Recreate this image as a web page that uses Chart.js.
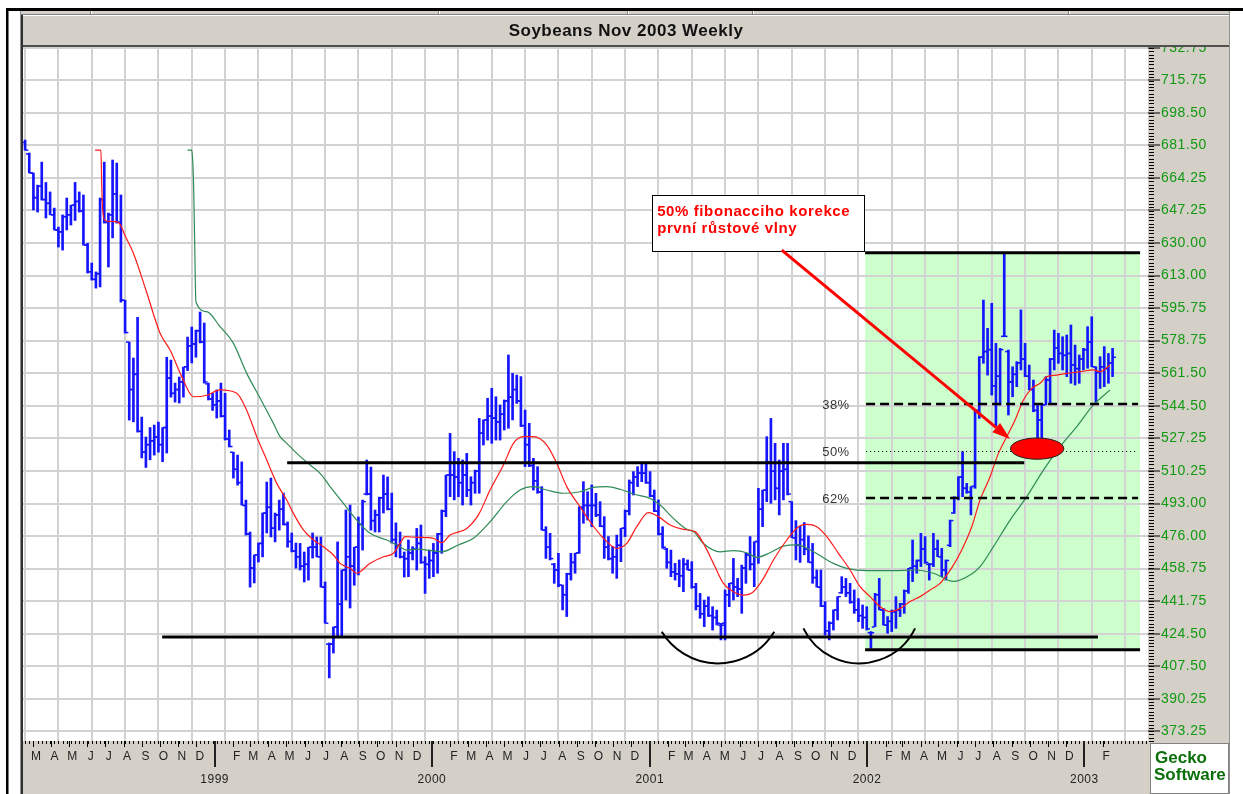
<!DOCTYPE html>
<html><head><meta charset="utf-8">
<script src="https://cdn.jsdelivr.net/npm/chart.js@4.4.1/dist/chart.umd.min.js"></script>
<style>html,body{margin:0;padding:0;background:#fff;overflow:hidden}#wrap{position:absolute;left:0;top:0;width:1243px;height:794px}</style>
</head><body><div id="wrap"><canvas id="c" width="1243" height="794"></canvas></div>
<script>
// ---- DATA (weekly bars, index 0 = week of 17 Feb 1998) ----
const weekHigh = [
684.3,677.5,667,660.6,672.7,662,657,648.5,638.5,644.9,
653.8,650,662,657,655.4,630,619.6,614.9,653.8,672.7,
645.9,673.8,672.2,655.4,600,578,569.6,591,538.5,528,
533,534.3,535.9,533,570,568.5,556.4,559.6,564.8,580.6,
585.9,584.3,593.8,588,556.4,551,552.8,556.4,551,531.7,
520,518.5,514.9,494.8,478,465.9,472.2,488,504.3,506.4,
488,494.8,498.5,483.3,477.5,472.2,472,467.5,470,477.5,
475.4,475.4,451.7,419.6,428,472.8,458,489.6,492.2,470,
485.9,494.8,515.9,512.2,489.6,496.4,508,507,498.5,482.8,
478,467.5,473.8,470.3,479.9,481.7,465,468.5,472,477.3,
489.6,508,529.9,520.3,516.8,515.9,519.4,507.1,510.6,537.8,
537,548.4,553.6,549.2,544.9,547.5,571.2,561.5,560.6,559.8,
542.2,535.2,516.8,512.4,501.9,480.8,477.3,461.5,466.8,450.1,
456.3,466.8,466.8,491.3,504.5,499.2,502.8,498.4,494,486.1,
475.6,470.3,476.4,479.9,489.6,505.4,509.8,512.4,514.2,514.2,
509.8,500.1,494.9,480.8,469.4,468.5,461.5,463.3,464.1,463.3,
462.4,451,445.7,442.2,443.9,438.7,436.9,429.9,447.5,451,
464.1,453.6,460.6,466.8,475.6,472.9,501,500.1,528.2,537.8,
524.7,515.9,524.7,524.7,494,484,481,483,476,472,
458,458,441.4,430.8,437,444,454.5,453.6,451,447.5,
443,439.6,438.7,425.6,445.7,453.6,437.8,433.5,437,444,
440.5,447.5,458.9,473.8,463.3,477.3,475.6,461.5,477.3,473.8,
469.4,463.3,484.3,496.6,507.1,520.3,503.6,501.9,542.2,570.3,
600.1,585.2,598.4,577.3,574.7,624.7,573.8,565,567.7,594.9,
577.3,565.9,558,544.9,545.7,559.8,569.4,584.3,582.6,580.8,
581.7,587,576.4,571.2,574.7,586.1,591.3,565,570.3,575.6,
572,574.7];
const weekLow = [
679,667,647.5,646.4,652.7,643.3,645,637,628,626.4,
637,639.6,642,646.4,629,614.3,610.6,606.4,607,640.6,
617.5,632.8,640.6,599,582.7,536.9,536,530.6,517,512,
516,518.5,520,515,519.6,549,546.4,545.9,549,563,
567,570,577.5,556.4,547.5,542,538,538.5,526.4,522.8,
506.4,502.7,492.2,476.4,449,451.2,462.2,464.9,477.5,475.4,
472.8,479,481.7,470,467.5,459,458,451.7,452.7,464.3,
464.9,449,430,401.2,414.3,422.8,422.8,442.2,438,450,
455.4,468.5,497.5,479,478,478,488,489.6,472.2,464.9,
464.3,454.3,454.5,463.3,458,461.5,445.7,453.6,454.5,456.3,
466.8,486.1,496.6,494.9,496.6,492.2,496.6,492.2,498.4,498.4,
523.8,526.4,524.7,526.4,526.4,531.7,532.6,537,545.7,533.5,
512.4,512.4,500.1,498.4,479,464.1,463.3,451,449.2,437,
433.5,452.7,456.3,466.8,482.6,484.3,480.8,486.1,480.8,464.1,
463.3,456.3,453.6,462.4,475.6,487,497.5,501.9,504.5,503.6,
496.6,488.7,476.4,469.4,458.9,454.5,452.7,449.2,446.6,458,
448.4,437,432.6,428.2,433.5,426.4,429.1,421.2,421.2,438.7,
442.2,444,435.2,451,458,449.2,461.5,480.8,494,493.1,
494.9,487,494.9,497.5,475,463.3,462,466,462,451,
449,438.7,423.8,421.2,426.4,431.7,445.7,444,440.5,435.2,
430.8,427.3,426.4,416.8,428.2,437,429,424.7,425.6,427.3,
433.5,435.2,445.7,451.9,456.3,459.8,461.5,452.7,459.8,465,
454.5,452.7,470.3,487.8,494.9,496.6,498.4,487,501,537.8,
566.8,560.6,550.1,533.5,544.9,580.8,539.6,549.2,554.5,563.3,
559.8,552.8,541.3,522,527.3,544.9,545.7,563.3,566.8,563.3,
559.8,556.3,555.4,556.3,563.3,564.2,565,545.7,553.6,554.5,
556.3,559.8];
const weekOpen = [
683,677,667,654,660,653,651,645,637,636,
644,645,650,652,647,629,615,611,614,653,
641,645,656,641,600,578,553,561,531,520,
524,526,528,524,533,559,551,553,557,565,
576,577,584,578,556,548,545,547,539,527,
520,511,504,492,477,459,466,472,488,491,
480,487,490,482,473,468,465,460,461,470,
470,465,449,419,419,428,440,458,465,460,
470,482,498,498,484,487,496,498,490,474,
471,465,464,467,469,472,462,461,463,467,
477,489,508,508,507,504,508,500,504,510,
530,537,539,538,536,540,547,549,553,547,
534,524,513,505,499,479,470,461,458,450,
445,456,462,467,491,492,492,492,487,481,
470,464,465,471,480,489,504,507,509,509,
504,497,489,477,469,462,457,456,455,461,
458,449,439,435,439,434,433,429,430,445,
451,449,448,459,466,461,473,490,500,515,
510,501,510,511,494,475,471,474,469,462,
454,449,439,426,430,437,446,449,446,441,
437,434,433,425,428,445,437,429,431,436,
437,440,447,459,460,463,469,461,461,469,
465,458,471,488,496,507,501,499,502,542,
570,573,574,555,560,581,573,557,561,567,
569,560,553,542,537,545,558,569,575,572,
571,572,566,564,569,574,578,565,562,565,
564,567];
const weekClose = [
679,667,654,660,653,651,645,637,636,644,
645,650,652,647,629,615,611,614,653,641,
645,656,641,600,583,553,561,531,520,524,
526,528,524,533,559,551,553,557,565,576,
577,584,578,557,548,545,547,539,527,523,
511,504,492,477,459,466,472,488,491,480,
487,490,482,473,468,465,460,461,470,470,
465,449,430,419,428,440,458,465,460,470,
482,494,498,484,487,496,498,490,474,471,
465,464,467,469,472,462,461,463,467,477,
489,508,508,507,504,508,500,504,510,530,
537,539,538,536,540,547,549,553,547,534,
524,513,505,499,479,470,464,458,450,445,
456,462,467,491,492,492,492,487,481,470,
464,465,471,480,489,504,507,509,509,504,
497,489,477,470,462,457,456,455,461,458,
449,439,435,439,434,433,430,429,445,451,
449,448,459,466,461,473,490,500,515,510,
501,510,511,498,475,471,474,469,462,454,
449,439,426,430,437,444,449,446,441,437,
434,433,427,425,445,437,429,431,436,437,
440,447,459,460,463,469,462,461,469,465,
458,463,484,496,507,501,499,502,542,570,
573,574,555,560,574,581,557,561,567,569,
560,553,542,537,545,558,569,575,572,571,
572,566,564,569,574,578,565,562,565,564,
567,570];
// moving averages: [week, price]
const redMA = [[16.8,679],[18.2,679],[18.4,660],[18.6,648],[19.2,642],[20.5,641.5],[22.4,641],[24,634],[26,624.7],[29,605.4],[32.4,582.6],[34.8,573.8],[37.6,559.8],[40.4,549.2],[43.6,550],[46.8,552.8],[50.8,551],[53.2,542],[55.6,528.2],[58,515.9],[60.4,503.6],[62.8,494.9],[64.4,487.8],[66.8,479.1],[69.2,473.8],[71.6,470.3],[74,465.9],[75.6,461.5],[78,458.9],[79.6,456.3],[80.4,457.1],[82.8,461.5],[86,465],[88.4,466.8],[90,472],[91.2,475.6],[94,475.2],[98,474.7],[100,472.4],[102,476.4],[106,479.9],[108.8,487],[111.6,500.1],[114.8,513.3],[117.2,524.7],[119.6,528.2],[122,528.2],[125.2,523.8],[127.6,514.2],[130,501.9],[133.2,491.3],[135.6,483.4],[138.8,474.7],[142,469.4],[144.4,472],[146.8,480.8],[149.6,488.2],[152,486.1],[154.8,481.7],[158,479.4],[160.8,478.2],[162.8,472],[165.2,461.5],[167.6,451],[170,446.6],[172.4,444.8],[174.8,446.6],[177.2,453.6],[179.6,463.3],[182.8,473.8],[185.6,480.8],[187.6,482],[190,480.8],[192.4,475.6],[195.2,466.8],[198,458],[200.4,449.2],[202.8,444],[205.2,438.7],[207.6,436.1],[210,437.8],[212.4,441.4],[214.8,444],[217.2,447.5],[219.6,451],[221.2,455.4],[222.8,460.6],[224.8,468.5],[227.2,480.8],[229.2,494.9],[231.6,507.1],[233.6,519.4],[235.6,528.2],[237.6,537],[239.6,547.5],[241.6,553.6],[243.6,556.3],[245.2,559.8],[247.6,560.6],[250,561.5],[253.2,562.4],[256.4,563.3],[258,562.4],[260.4,565.9]];
const greenMA = [[39,679],[40,679],[40.3,670],[40.5,655],[40.7,630],[41,599.2],[43.6,594],[46.8,586.1],[50,577.3],[53.2,561.5],[56.4,548.5],[59.6,535.2],[61.2,528.2],[62.8,524.7],[65.2,519.4],[68.4,513.3],[70.8,508.9],[73.2,501.9],[76.4,493.1],[79.6,484.3],[82.8,477.3],[86.8,473.8],[89.2,471.2],[91.6,468.5],[94,469],[100,467.6],[104,471.2],[107.6,474.7],[111.6,483.4],[115.6,494],[118.8,500.1],[122,501.9],[125.2,500.1],[129.2,498.4],[133.2,499.2],[136.4,501.5],[139.6,501.9],[142.8,500.5],[146,498],[150,495.7],[152.4,492.2],[155.6,485.2],[158.8,479.4],[160.4,478.2],[162.8,472],[166.8,467.6],[170,468.2],[173.2,467.1],[175.6,464.7],[178.8,467.1],[182,470.6],[185.2,471.2],[189.2,467.6],[194,461.5],[197.2,458.9],[202,457.7],[208.4,457.7],[213.2,458],[218,456.3],[222.8,452],[226.8,455.4],[229.2,459.8],[232.4,470.3],[236.4,484.3],[240.4,496.6],[244.4,510.6],[248.4,522.9],[252.4,533.5],[256.4,544.9],[260.4,552.8]];
const yTickLabels = ['732.75','715.75','698.50','681.50','664.25','647.25','630.00','613.00','595.75','578.75','561.50','544.50','527.25','510.25','493.00','476.00','458.75','441.75','424.50','407.50','390.25','373.25'];
const gridWeeks = [0,8,16,24,32,40,48,56,64,72,80,88,96,104,112,120,128,136,144,152,160,168,176,184,192,200,208,216,224,232,240,248,256,264];
const monthLetters = ['J','F','M','A','M','J','J','A','S','O','N','D'];
const firstMonth = [1998,2], lastMonth = [2003,1], jan1999Week = 45.5;
// drawings on the chart, in [week, price]
const fibZone = {w0:201.6, w1:267.6, top:625, bottom:416};
const fibLevels = [{label:'38%', price:545.2, style:'dash'},{label:'50%', price:520.5, style:'dot'},{label:'62%', price:495.8, style:'dash'}];
const fibLabelWeek = 194.6;
const levelLines = [{price:625, w0:201.6, w1:267.6},{price:416, w0:201.6, w1:267.6},{price:514.5, w0:62.9, w1:239.8},{price:422.7, w0:32.9, w1:257.5}];
const arcs = [[[152.8,425.5],[166.4,408.9],[179.8,425.5]],[[186.8,427.3],[200.0,408.9],[213.6,427.3]]];
const marker = {w:242.9, price:521.9, rw:6.4, rp:5.6};
const arrowLine = {from:[181.6,626.4], to:[236.4,526.9]};
const noteBox = {w0:150.5, w1:201.4, top:655.4, bottom:626.0, textWeek:151.7, lines:[['50% fibonacciho korekce',646.4],['první růstové vlny',637.4]]};

// ---- derived tick positions ----
const monthTicks = [];
for (let y = firstMonth[0], m = firstMonth[1]; y < lastMonth[0] || (y === lastMonth[0] && m <= lastMonth[1]);) {
  const days = (Date.UTC(y, m, 1) - Date.UTC(1999, 0, 1)) / 86400000;
  const w = jan1999Week + days / 7;
  monthTicks.push(m === 0 ? {w: w, start: w, year: true, label: ['', String(y)]} : {w: w + 0.9, start: w, year: false, label: [monthLetters[m]]});
  m++; if (m === 12) { m = 0; y++; }
}

const FONT = "Arial, 'Liberation Sans', sans-serif";
function circle3(a, b, c) {
  const d = 2 * (a[0] * (b[1] - c[1]) + b[0] * (c[1] - a[1]) + c[0] * (a[1] - b[1]));
  const ux = ((a[0]*a[0] + a[1]*a[1]) * (b[1] - c[1]) + (b[0]*b[0] + b[1]*b[1]) * (c[1] - a[1]) + (c[0]*c[0] + c[1]*c[1]) * (a[1] - b[1])) / d;
  const uy = ((a[0]*a[0] + a[1]*a[1]) * (c[0] - b[0]) + (b[0]*b[0] + b[1]*b[1]) * (a[0] - c[0]) + (c[0]*c[0] + c[1]*c[1]) * (b[0] - a[0])) / d;
  return [ux, uy, Math.hypot(a[0] - ux, a[1] - uy)];
}
function titleBar(c, x0, x1) {
  c.fillStyle = '#d4d0c8'; c.fillRect(x0, 15, x1 - x0, 31);
  c.fillStyle = '#ffffff'; c.fillRect(x0, 15, x1 - x0, 1);
  c.fillStyle = '#505050'; c.fillRect(x0, 45, x1 - x0, 2);
}

const decor = {
  id: 'decor',
  beforeDraw(chart) {
    const c = chart.ctx, xs = chart.scales.x, ys = chart.scales.y, ca = chart.chartArea;
    c.save();
    c.fillStyle = '#fff'; c.fillRect(0, 0, 1243, 794);
    c.fillStyle = '#000'; c.fillRect(6, 8, 1237, 3); c.fillRect(6, 8, 2.5, 786);
    c.fillStyle = '#d4d0c8'; c.fillRect(20, 11, 1210, 4);
    c.fillStyle = '#808080'; c.fillRect(20, 14, 1210, 1);
    [90, 438, 627, 752, 1068].forEach(x => { c.fillStyle = '#808080'; c.fillRect(x, 11, 1, 3); c.fillStyle = '#fff'; c.fillRect(x + 1, 11, 1, 3); });
    c.fillStyle = '#909090'; c.fillRect(20, 11, 1, 783);
    c.fillStyle = '#303030'; c.fillRect(21, 15, 2, 779);
    titleBar(c, 23, 1229);
    c.fillStyle = '#d4d0c8'; c.fillRect(ca.right, ca.top, 1229 - ca.right, 794 - ca.top);
    c.fillRect(23, ca.bottom, ca.right - 23, 794 - ca.bottom);
    c.fillStyle = '#909090'; c.fillRect(1229, 11, 1, 783);
    // green zone
    c.fillStyle = '#ccffcc';
    const gx0 = xs.getPixelForValue(fibZone.w0), gx1 = xs.getPixelForValue(fibZone.w1);
    const gy0 = ys.getPixelForValue(fibZone.top), gy1 = ys.getPixelForValue(fibZone.bottom);
    c.fillRect(gx0, gy0, gx1 - gx0, gy1 - gy0);
    // Gecko box
    c.fillStyle = '#fff'; c.fillRect(1150, 743, 79, 51);
    c.strokeStyle = '#808080'; c.lineWidth = 1; c.strokeRect(1150.5, 743.5, 78, 50);
    c.fillStyle = '#0a6e0a'; c.font = 'bold 17px ' + FONT; c.textBaseline = 'middle'; c.textAlign = 'left';
    c.fillText('Gecko', 1155, 758); c.fillText('Software', 1154, 775);
    c.restore();
    // wider, bitmap-like text spacing for the library's own labels
    c.letterSpacing = '0.5px';
  },
  afterDatasetsDraw(chart) {
    const c = chart.ctx, xs = chart.scales.x, ys = chart.scales.y;
    const X = v => xs.getPixelForValue(v), Y = v => ys.getPixelForValue(v);
    c.save();
    // level lines
    c.strokeStyle = '#000'; c.lineWidth = 3; c.lineCap = 'butt';
    levelLines.forEach(l => { c.beginPath(); c.moveTo(X(l.w0), Y(l.price)); c.lineTo(X(l.w1), Y(l.price)); c.stroke(); });
    // fib levels
    fibLevels.forEach(f => {
      c.beginPath();
      if (f.style === 'dash') { c.lineWidth = 2.5; c.setLineDash([9, 5]); }
      else { c.lineWidth = 1; c.setLineDash([1, 3]); }
      const y = Math.round(Y(f.price)) + (f.style === 'dot' ? 0.5 : 0);
      c.moveTo(X(fibZone.w0) + 1, y); c.lineTo(X(fibZone.w1) - 2, y); c.stroke();
      c.setLineDash([]);
      c.fillStyle = '#333'; c.font = '13px ' + FONT; c.textAlign = 'center'; c.textBaseline = 'middle';
      c.fillText(f.label, X(fibLabelWeek), Y(f.price) + 1);
    });
    // arcs
    c.strokeStyle = '#000'; c.lineWidth = 2;
    arcs.forEach(pts => {
      const p = pts.map(q => [X(q[0]), Y(q[1])]);
      const [cx, cy, r] = circle3(p[0], p[1], p[2]);
      const aR = Math.atan2(p[2][1] - cy, p[2][0] - cx), aL = Math.atan2(p[0][1] - cy, p[0][0] - cx);
      c.beginPath(); c.arc(cx, cy, r, aR, aL, false); c.stroke();
    });
    // red marker ellipse
    const ex = X(marker.w), ey = Y(marker.price);
    const rx = X(marker.w + marker.rw) - ex, ry = Y(marker.price - marker.rp) - ey;
    c.beginPath(); c.ellipse(ex, ey, rx, ry, 0, 0, Math.PI * 2);
    c.fillStyle = '#ff0000'; c.fill(); c.strokeStyle = '#202020'; c.lineWidth = 1; c.stroke();
    // note box
    const bx0 = X(noteBox.w0), bx1 = X(noteBox.w1), by0 = Y(noteBox.top), by1 = Y(noteBox.bottom);
    c.fillStyle = '#fff'; c.fillRect(bx0, by0, bx1 - bx0, by1 - by0);
    c.strokeStyle = '#000'; c.lineWidth = 1; c.strokeRect(Math.round(bx0) + 0.5, Math.round(by0) + 0.5, Math.round(bx1 - bx0), Math.round(by1 - by0));
    c.fillStyle = '#ff0000'; c.font = 'bold 15px ' + FONT; c.textAlign = 'left'; c.textBaseline = 'middle';
    c.letterSpacing = '0.6px';
    noteBox.lines.forEach(([t, p]) => c.fillText(t, X(noteBox.textWeek), Y(p)));
    // arrow
    const sx = X(arrowLine.from[0]), sy = Y(arrowLine.from[1]), tx = X(arrowLine.to[0]), ty = Y(arrowLine.to[1]);
    const ang = Math.atan2(ty - sy, tx - sx), hl = 18, hw = 6;
    const bxh = tx - hl * Math.cos(ang), byh = ty - hl * Math.sin(ang);
    c.strokeStyle = '#ff0000'; c.lineWidth = 3;
    c.beginPath(); c.moveTo(sx, sy); c.lineTo(bxh, byh); c.stroke();
    c.fillStyle = '#ff0000'; c.beginPath(); c.moveTo(tx, ty);
    c.lineTo(bxh + hw * Math.sin(ang), byh - hw * Math.cos(ang));
    c.lineTo(bxh - hw * Math.sin(ang), byh + hw * Math.cos(ang)); c.closePath(); c.fill();
    c.restore();
  },
  afterDraw(chart) {
    const c = chart.ctx, xs = chart.scales.x, ys = chart.scales.y, ca = chart.chartArea;
    c.letterSpacing = '0px';
    c.save();
    titleBar(c, ca.right, 1229);
    c.fillStyle = '#000';
    for (let w = 0; w <= 269; w++) c.fillRect(Math.round(xs.getPixelForValue(w)), ca.bottom, 1, 3);
    monthTicks.forEach(t => {
      const x = Math.round(xs.getPixelForValue(t.start));
      if (t.year) { c.fillStyle = '#202020'; c.fillRect(x - 1, ca.bottom, 2, 26); }
      else { c.fillStyle = '#000'; c.fillRect(x, ca.bottom, 1, 6); }
    });
    // y minor ruler
    const step = (parseFloat(yTickLabels[0]) - parseFloat(yTickLabels[yTickLabels.length - 1])) / (yTickLabels.length - 1) / 10;
    c.fillStyle = '#000';
    for (let v = parseFloat(yTickLabels[yTickLabels.length - 1]) - step * 3; v <= ys.max; v += step) {
      const y = Math.round(ys.getPixelForValue(v));
      if (y >= ca.top && y <= ca.bottom) c.fillRect(ca.right + 1, y, 5, 1);
    }
    c.restore();
  }
};

const ohlcBars = weekHigh.map((h, i) => ({x: i, y: [weekLow[i], h]}));
const openTicks = weekOpen.map((v, i) => ({x: i - 0.45, y: v}));
const closeTicks = weekClose.map((v, i) => ({x: i + 0.45, y: v}));
const BLUE = '#1414ff';

new Chart(document.getElementById('c'), {
  type: 'line',
  data: {datasets: [
    {type: 'line', data: redMA.map(p => ({x: p[0], y: p[1]})), borderColor: '#ff1a1a', borderWidth: 1.2, pointRadius: 0, cubicInterpolationMode: 'monotone', order: 0},
    {type: 'line', data: greenMA.map(p => ({x: p[0], y: p[1]})), borderColor: '#2e8b57', borderWidth: 1.2, pointRadius: 0, cubicInterpolationMode: 'monotone', order: 0},
    {type: 'line', data: openTicks, showLine: false, pointStyle: 'line', pointRadius: 1.4, pointBorderWidth: 1.5, pointBorderColor: BLUE, pointBackgroundColor: BLUE, order: 1},
    {type: 'line', data: closeTicks, showLine: false, pointStyle: 'line', pointRadius: 1.4, pointBorderWidth: 1.5, pointBorderColor: BLUE, pointBackgroundColor: BLUE, order: 1},
    {type: 'bar', data: ohlcBars, backgroundColor: BLUE, borderWidth: 0, barThickness: 2, grouped: false, order: 2}
  ]},
  options: {
    responsive: false, animation: false, devicePixelRatio: 1, events: [],
    layout: {padding: {left: 23, right: 14, top: 0, bottom: 0}},
    plugins: {
      legend: {display: false}, tooltip: {enabled: false},
      title: {display: true, text: 'Soybeans Nov 2003 Weekly', color: '#111', font: {family: FONT, size: 17, weight: 'bold', lineHeight: 1.2}, padding: {top: 21, bottom: 5.6}}
    },
    scales: {
      x: {type: 'linear', position: 'bottom', min: -0.5, max: 269.5, offset: false,
        afterBuildTicks: s => { s.ticks = gridWeeks.map(v => ({value: v})); },
        ticks: {display: false}, grid: {color: '#d2d2d2', lineWidth: 2, drawTicks: false, offset: false}, border: {display: false},
        afterFit: s => { s.height = 0; }},
      xm: {type: 'linear', position: 'bottom', min: -0.5, max: 269.5, offset: false,
        afterBuildTicks: s => { s.ticks = monthTicks.map(t => ({value: t.w})); },
        ticks: {autoSkip: false, maxRotation: 0, minRotation: 0, padding: 4, color: '#222', font: {family: FONT, size: 12, lineHeight: '23px'},
          callback: (v, i) => monthTicks[i].label},
        grid: {display: false, drawTicks: false}, border: {display: false},
        afterFit: s => { s.height = 53; }},
      y: {type: 'linear', position: 'right', min: 368.0, max: 733.3, beginAtZero: false,
        afterBuildTicks: s => { s.ticks = yTickLabels.map(l => ({value: parseFloat(l)})).sort((a, b) => a.value - b.value); },
        ticks: {color: '#119911', font: {family: FONT, size: 14}, padding: 1,
          callback: v => yTickLabels.find(l => Math.abs(parseFloat(l) - v) < 1e-6)},
        grid: {color: '#d2d2d2', lineWidth: 2, tickColor: '#000', tickLength: 12, tickWidth: 1}, border: {display: false},
        afterFit: s => { s.width = 81; }}
    }
  },
  plugins: [decor]
});
</script></body></html>
